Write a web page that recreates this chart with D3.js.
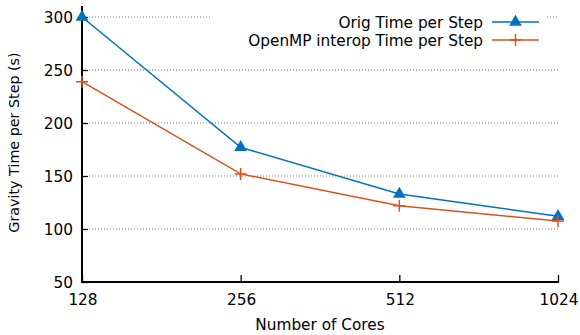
<!DOCTYPE html>
<html><head><meta charset="utf-8">
<script src="https://cdn.jsdelivr.net/npm/d3@7"></script>
<style>body{margin:0;background:#fff}svg text{font-family:"DejaVu Sans",sans-serif;fill:#000}</style>
</head><body><svg id="c" width="580" height="335"></svg>
<script>
const cores = [128, 256, 512, 1024];
const origTime = [300, 177, 133, 112];
const ompTime = [239, 152, 122, 107.5];
const yTicks = [50, 100, 150, 200, 250, 300];
const seriesNames = ["Orig Time per Step", "OpenMP interop Time per Step"];
const colors = ["#0072bd", "#d95319"];

const FS = 15.3;
const svg = d3.select("#c");
const L = 82, R = 558, T = 17, B = 282;
const x = d3.scaleLog().base(2).domain([128, 1024]).range([L, R]);
const y = d3.scaleLinear().domain([50, 300]).range([B, T]);

// grid
const grid = svg.append("g");
yTicks.filter(v => v > 50).forEach(v => {
  const segs = v === 300 ? [[L + 7, 212], [547, R]] : [[L + 7, R]];
  segs.forEach(s => grid.append("line").attr("x1", s[0]).attr("x2", s[1])
    .attr("y1", y(v)).attr("y2", y(v)).attr("stroke", "#555").attr("stroke-width", 0.8)
    .attr("stroke-dasharray", "1,2"));
});

// axes
const ya = svg.append("g").attr("transform", `translate(${L},0)`)
  .call(d3.axisRight(y).tickValues(yTicks).tickSize(6).tickFormat(""));
ya.select(".domain").remove();
ya.selectAll("line").attr("stroke", "#000").attr("stroke-width", 1.3);
yTicks.forEach(v => svg.append("text").attr("x", L - 9).attr("y", y(v)).attr("dy", "0.36em")
  .attr("text-anchor", "end").attr("font-size", FS).text(v));

const xa = svg.append("g").attr("transform", `translate(0,${B})`)
  .call(d3.axisTop(x).tickValues(cores).tickSize(7).tickFormat(""));
xa.select(".domain").remove();
xa.selectAll("line").attr("stroke", "#000").attr("stroke-width", 1.3);
cores.forEach(v => svg.append("text").attr("x", x(v) + 1).attr("y", 305)
  .attr("text-anchor", "middle").attr("font-size", FS).text(v));

svg.append("line").attr("x1", L).attr("x2", L).attr("y1", 6).attr("y2", B + 0.5)
  .attr("stroke", "#000").attr("stroke-width", 2);
svg.append("line").attr("x1", L - 1).attr("x2", R + 1).attr("y1", B).attr("y2", B)
  .attr("stroke", "#000").attr("stroke-width", 2);

svg.append("text").attr("transform", `translate(19,142.5) rotate(-90)`)
  .attr("text-anchor", "middle").attr("font-size", 14.3).text("Gravity Time per Step (s)");
svg.append("text").attr("x", (L + R) / 2).attr("y", 330)
  .attr("text-anchor", "middle").attr("font-size", FS).text("Number of Cores");

// series
const line = d3.line().x(d => x(d[0])).y(d => y(d[1]));
const tri = d3.symbol().type(d3.symbolTriangle).size(70);
[origTime, ompTime].forEach((vals, i) => {
  const pts = cores.map((c, j) => [c, vals[j]]);
  svg.append("path").attr("d", line(pts)).attr("fill", "none")
    .attr("stroke", colors[i]).attr("stroke-width", 1.5);
  pts.forEach(p => drawMarker(i, x(p[0]), y(p[1])));
});

function drawMarker(i, cx, cy) {
  if (i === 0) {
    svg.append("path").attr("d", tri()).attr("transform", `translate(${cx},${cy})`)
      .attr("fill", colors[0]);
  } else {
    const s = 6;
    svg.append("path").attr("d", `M${cx - s},${cy}H${cx + s}M${cx},${cy - s}V${cy + s}`)
      .attr("stroke", colors[1]).attr("stroke-width", 1.5).attr("fill", "none");
  }
}

// legend
seriesNames.forEach((n, i) => {
  const ly = 22 + i * 18;
  svg.append("text").attr("x", 483).attr("y", ly).attr("dy", "0.36em")
    .attr("text-anchor", "end").attr("font-size", FS).text(n);
  svg.append("line").attr("x1", 492).attr("x2", 539).attr("y1", ly).attr("y2", ly)
    .attr("stroke", colors[i]).attr("stroke-width", 1.5);
  drawMarker(i, 515.5, ly);
});
</script></body></html>
